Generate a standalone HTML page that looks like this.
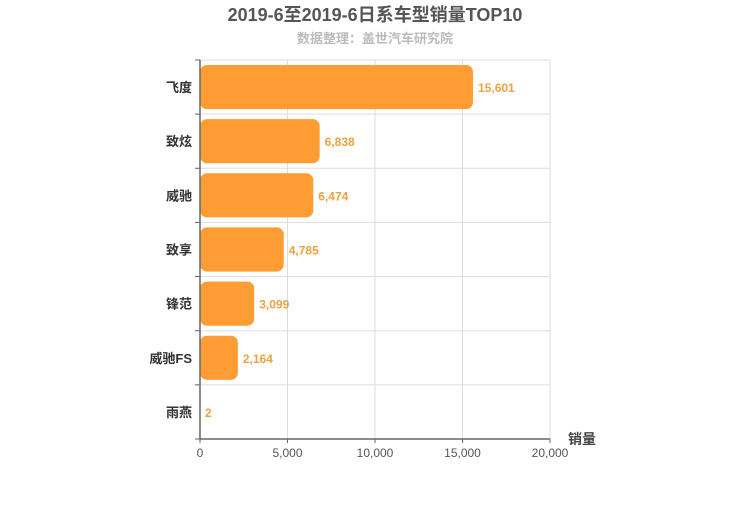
<!DOCTYPE html>
<html><head><meta charset="utf-8"><style>
body{margin:0;background:#fff;width:750px;height:500px;overflow:hidden}
svg{font-family:"Liberation Sans","Noto Sans CJK SC",sans-serif}
</style></head><body>
<svg id="c" width="750" height="500">
<text x="375" y="21" text-anchor="middle" font-size="18" font-weight="bold" fill="#555">2019-6至2019-6日系车型销量TOP10</text>
<text x="375" y="43" text-anchor="middle" font-size="13" font-weight="bold" fill="#bbb">数据整理：盖世汽车研究院</text>
<text x="582" y="444" text-anchor="middle" font-size="14" font-weight="bold" fill="#444">销量</text>
</svg>
<script>
const categories=["飞度","致炫","威驰","致享","锋范","威驰FS","雨燕"];
const values=[15601,6838,6474,4785,3099,2164,2];
const ticks=[0,5000,10000,15000,20000];
const NS="http://www.w3.org/2000/svg";
const svg=document.getElementById('c');
const x0=200,x1=550,y0=60,y1=439,max=20000;
const band=(y1-y0)/categories.length;
const X=v=>x0+(x1-x0)*v/max;
const Y=i=>y0+band*i;
function mk(t,a,p){const e=document.createElementNS(NS,t);for(const k in a)e.setAttribute(k,a[k]);(p||svg).appendChild(e);return e;}
ticks.forEach(t=>{
 const g=mk('line',{x1:X(t),x2:X(t),y1:y0,y2:y1,stroke:'#ddd'});
 
 
 const l=mk('text',{x:X(t),y:y1+18,'text-anchor':'middle','font-size':12,fill:'#555'});
 l.textContent=t.toLocaleString('en-US');
 
 
});
for(let i=0;i<=categories.length;i++){
 const g=mk('line',{x1:x0-5,x2:x1,y1:Y(i),y2:Y(i),stroke:'#ddd'});
 
 
 mk('line',{x1:x0-5,x2:x0,y1:Y(i),y2:Y(i),stroke:'#666'});
}
categories.forEach((c,i)=>{
 const yc=Y(i)+band/2;
 const b=mk('rect',{x:x0,y:Y(i)+5,width:Math.max(0,X(values[i])-x0),height:band-10,rx:7,fill:'#ff9c33'});
 
 
 const l=mk('text',{x:x0-8,y:yc+5,'text-anchor':'end','font-size':13,'font-weight':'bold',fill:'#333'});
 l.textContent=c;
 
 
 const v=mk('text',{x:X(values[i])+5,y:yc+5,'font-size':12,'font-weight':'bold',fill:'#f0a040'});
 v.textContent=values[i].toLocaleString('en-US');
 
 
});
const ya=mk('line',{x1:x0,x2:x0,y1:y0,y2:y1,stroke:'#666','stroke-width':1.5});


const xa=mk('line',{x1:x0,x2:x1,y1:y1,y2:y1,stroke:'#666','stroke-width':1.5});


ticks.forEach(t=>mk('line',{x1:X(t),x2:X(t),y1:y1,y2:y1+4,stroke:'#666'}));
</script>
</body></html>
